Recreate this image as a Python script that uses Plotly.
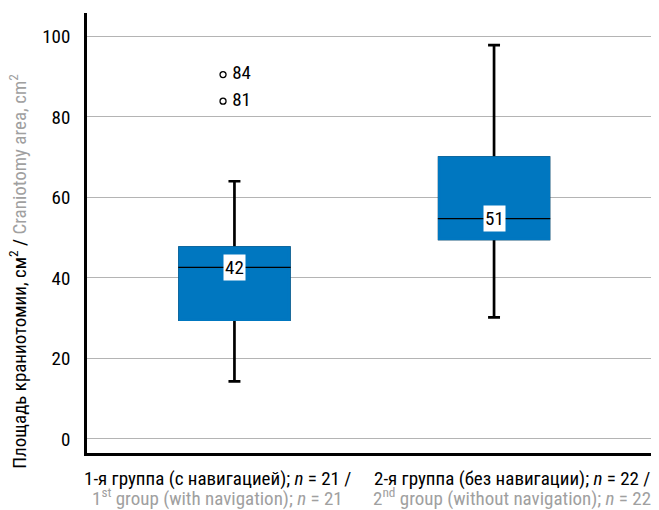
import plotly.graph_objects as go

# ---- data ----
groups = [0, 1]
group_labels_ru = ["1-я группа (с навигацией); <i>n</i> = 21 /",
                   "2-я группа (без навигации); <i>n</i> = 22 /"]
group_labels_en = ["1<sup>st</sup> group (with navigation); <i>n</i> = 21",
                   "2<sup>nd</sup> group (without navigation); <i>n</i> = 22"]
q1 = [29.6, 49.7]
median = [42.6, 54.7]
q3 = [47.5, 69.9]
lower_whisker = [14.3, 30.2]
upper_whisker = [64.0, 97.8]
median_labels = ["42", "51"]
outlier_group = [0, 0]
outlier_values = [90.5, 83.9]
outlier_labels = ["84", "81"]
y_ticks = [0, 20, 40, 60, 80, 100]

# ---- style ----
FONT = "Roboto Condensed, Roboto, sans-serif"
FW = 400
BLUE = "#0077c0"
GRAY = "#a0a0a0"
BOX_W = 0.433
LW = 2.7
OUTLIER_DX = -0.044

fig = go.Figure()

# whiskers with caps
fig.add_trace(go.Box(
    x=groups, q1=q1, median=median, q3=q3,
    lowerfence=lower_whisker, upperfence=upper_whisker,
    width=BOX_W - LW / 259.7, whiskerwidth=12 / 110,
    line=dict(color="black", width=LW), fillcolor=BLUE,
    boxpoints=False, hoverinfo="skip", showlegend=False))
# box body
fig.add_trace(go.Box(
    x=groups, q1=q1, median=median, q3=q3,
    lowerfence=q1, upperfence=q3,
    width=BOX_W - LW / 259.7, whiskerwidth=0,
    line=dict(color=BLUE, width=LW), fillcolor=BLUE,
    boxpoints=False, hoverinfo="skip", showlegend=False))
# median line
fig.add_trace(go.Box(
    x=groups, q1=median, median=median, q3=median,
    lowerfence=median, upperfence=median,
    width=BOX_W, whiskerwidth=0,
    line=dict(color="black", width=1.2), fillcolor="rgba(0,0,0,0)",
    boxpoints=False, hoverinfo="skip", showlegend=False))

# outliers
fig.add_trace(go.Scatter(
    x=[g + OUTLIER_DX for g in outlier_group], y=outlier_values,
    mode="markers+text", text=[" " + t for t in outlier_labels], textposition="middle right",
    textfont=dict(family=FONT, size=19, color="black", weight=FW),
    marker=dict(symbol="circle-open", size=6, color="black", line=dict(width=1.3)),
    hoverinfo="skip", showlegend=False, cliponaxis=False))

annotations = []
for g, m, lab in zip(groups, median, median_labels):
    annotations.append(dict(x=g, y=m, xref="x", yref="y", text=lab, showarrow=False,
                            font=dict(family=FONT, size=19, color="black", weight=FW),
                            bgcolor="white", borderpad=1))
shifts = [-17, 18]
for g, ru, en, s in zip(groups, group_labels_ru, group_labels_en, shifts):
    annotations.append(dict(x=g, y=0, xref="x", yref="paper", text=ru, showarrow=False,
                            xanchor="center", yanchor="middle", yshift=-25, xshift=s,
                            font=dict(family=FONT, size=19, color="black", weight=FW)))
    annotations.append(dict(x=g, y=0, xref="x", yref="paper", text=en, showarrow=False,
                            xanchor="center", yanchor="middle", yshift=-44, xshift=s,
                            font=dict(family=FONT, size=19, color=GRAY, weight=FW)))
annotations.append(dict(
    x=0, y=0.412, xref="paper", yref="paper", xshift=-68, textangle=-90,
    text="Площадь краниотомии, см<sup>2</sup> / <span style='color:%s'>Craniotomy area, cm<sup>2</sup></span>" % GRAY,
    showarrow=False, xanchor="center", yanchor="middle",
    font=dict(family=FONT, size=19, color="black", weight=FW)))

fig.update_layout(
    width=651, height=502,
    margin=dict(l=79, r=4, t=5, b=57),
    paper_bgcolor="white", plot_bgcolor="white",
    boxmode="overlay",
    font=dict(family=FONT, size=19, color="black", weight=FW),
    annotations=annotations,
    xaxis=dict(range=[-0.568, 1.62], showticklabels=False, showgrid=False,
               zeroline=False, showline=True, linecolor="black", linewidth=3,
               ticks="", automargin=False),
    yaxis=dict(range=[-3.5, 105.8], tickvals=y_ticks, showgrid=True,
               gridcolor="#b4b4b4", gridwidth=1.3, zeroline=False,
               showline=True, linecolor="black", linewidth=2.7, ticks="",
               ticklabelstandoff=10, tickfont=dict(family=FONT, size=19, weight=FW),
               automargin=False),
)

fig.write_html("out.html")
